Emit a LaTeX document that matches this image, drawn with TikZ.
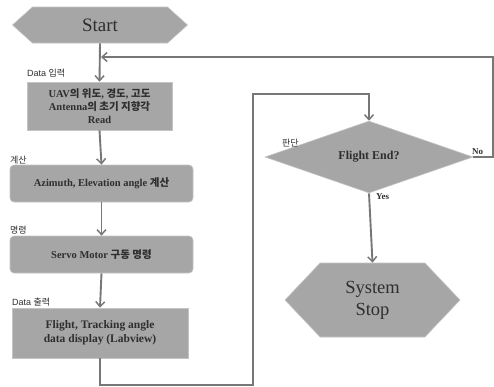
\documentclass[tikz,border=0pt]{standalone}
\usepackage{fontspec}
\setmainfont{Liberation Serif}
\newfontfamily\krfont{Noto Sans CJK KR}
\newfontfamily\labfont{Liberation Sans}
\usetikzlibrary{arrows.meta,shapes.geometric,shapes.symbols}
\newcommand{\kr}[1]{{\krfont #1}}
\definecolor{boxgray}{HTML}{A6A6A6}
\definecolor{edgegray}{HTML}{C4C4C4}
\definecolor{linegray}{HTML}{777777}
\definecolor{txt}{HTML}{2E2E2E}
\tikzset{
  procbox/.style={fill=boxgray, draw=edgegray, line width=0.6pt, inner sep=0pt, align=center, text=txt, font=\fontsize{10.5}{13}\selectfont\bfseries},
  hexbox/.style={signal, signal to=west and east, fill=boxgray, draw=edgegray, line width=0.6pt, inner sep=0pt, align=center, text=txt},
  conn/.style={draw=linegray, line width=1.9pt},
  arr/.style={conn, -{Straight Barb[length=5pt,width=9pt,line width=1.5pt]}},
  lab/.style={anchor=west, inner sep=0pt, text=txt, font=\labfont\fontsize{9}{10}\selectfont},
}
\begin{document}
\begin{tikzpicture}[x=1pt,y=-1pt]
\useasboundingbox (0,0) rectangle (494,386);
% nodes
\node[hexbox, minimum width=175pt, minimum height=36pt, signal pointer angle=84, font=\fontsize{19}{21}\selectfont] (start) at (100,25) {Start};
\node[procbox, minimum width=145pt, minimum height=48pt] (b1) at (99.5,106) {UAV\kr{의 위도}, \kr{경도}, \kr{고도}\\Antenna\kr{의 초기 지향각}\\Read};
\node[procbox, rounded corners=4pt, minimum width=183pt, minimum height=37pt] (b2) at (101.5,183.5) {Azimuth, Elevation angle \kr{계산}};
\node[procbox, rounded corners=4pt, minimum width=183pt, minimum height=37pt] (b3) at (101.5,254.5) {Servo Motor \kr{구동 명령}};
\node[procbox, minimum width=176pt, minimum height=50pt, font=\fontsize{11.5}{14}\selectfont\bfseries] (b4) at (100,333) {Flight, Tracking angle\\data display (Labview)};
\node[diamond, fill=boxgray, draw=edgegray, line width=0.6pt, inner sep=0pt, minimum width=208pt, minimum height=60pt, text=txt, font=\fontsize{12}{14}\selectfont\bfseries] (dec) at (369,157) {Flight End?};
\node[hexbox, minimum width=175pt, minimum height=74pt, signal pointer angle=93, font=\fontsize{18.5}{22}\selectfont] (stop) at (372.5,300) {System\\Stop};
% labels
\node[lab] (l1) at (27,73) {Data \kr{입력}};
\node[lab] (l2) at (10,160) {\kr{계산}};
\node[lab] (l3) at (10,230) {\kr{명령}};
\node[lab] (l4) at (12,302) {Data \kr{출력}};
\node[lab, font=\krfont\fontsize{9}{10}\selectfont] (l5) at (282,143) {판단};
\node[lab, font=\fontsize{9}{10}\selectfont\bfseries] (l6) at (472,152) {No};
\node[lab, font=\fontsize{9}{10}\selectfont\bfseries] (l7) at (376,197) {Yes};
% connectors
\draw[arr] (start.south) -- (b1.north);
\draw[arr] (b1.south) -- (b2.north);
\draw[arr] (b2.south) -- (b3.north);
\draw[arr] (b3.south) -- (b4.north);
\coordinate (lb) at (100,385);
\coordinate (lr) at (253,385);
\coordinate (lt) at (253,94);
\coordinate (ld) at (369,94);
\draw[arr] (b4.south) -- (lb) -- (lr) -- (lt) -- (ld) -- (dec.north);
\coordinate (nr) at (493,157);
\coordinate (nt) at (493,57);
\coordinate (nj) at (101,57);
\draw[arr] (dec.east) -- (nr) -- (nt) -- (nj);
\draw[arr] (dec.south) -- (stop.north);
\end{tikzpicture}
\end{document}
